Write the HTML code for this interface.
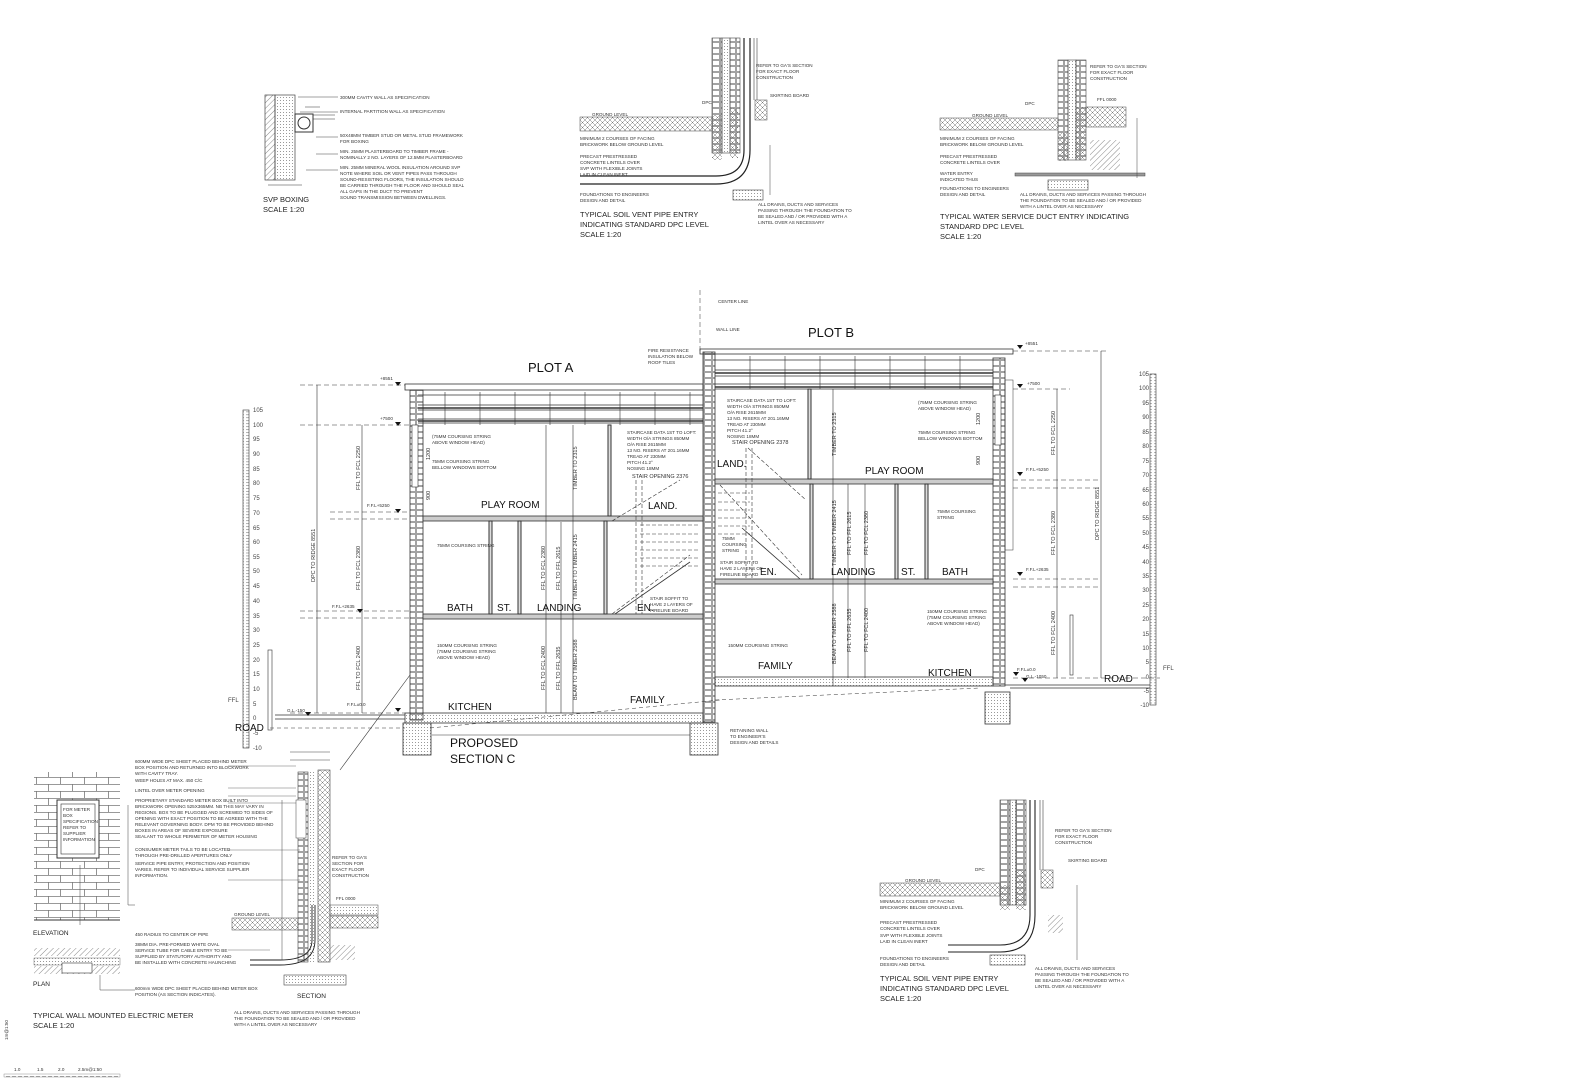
<!DOCTYPE html>
<html><head><meta charset="utf-8"><style>
html,body{margin:0;padding:0;background:#fff;}
svg{display:block;font-family:"Liberation Sans",sans-serif;}
.t{font-size:4.6px;fill:#333;}
.m{font-size:7.5px;fill:#222;}
.r{font-size:10px;fill:#111;}
.b{font-size:13px;fill:#111;}
.tk{font-size:6px;fill:#444;}
</style></head><body>
<svg width="1573" height="1080" viewBox="0 0 1573 1080" xmlns="http://www.w3.org/2000/svg">
<defs>
<pattern id="hat" width="4" height="4" patternUnits="userSpaceOnUse" patternTransform="rotate(45)"><line x1="0" y1="0" x2="0" y2="4" stroke="#555" stroke-width="0.7"/></pattern>
<pattern id="xh" width="5" height="5" patternUnits="userSpaceOnUse"><path d="M0 0L5 5M5 0L0 5" stroke="#777" stroke-width="0.5"/></pattern>
<pattern id="brk" width="8" height="6" patternUnits="userSpaceOnUse"><rect x="0.5" y="0.5" width="7" height="5" fill="none" stroke="#666" stroke-width="0.6"/></pattern>
<pattern id="wbrk" width="24" height="14" patternUnits="userSpaceOnUse"><path d="M0 0.5H24M0 7.5H24M0.5 0V7M12.5 7V14" stroke="#777" stroke-width="0.8" fill="none"/></pattern>
<pattern id="dot" width="3" height="3" patternUnits="userSpaceOnUse"><circle cx="1.5" cy="1.5" r="0.5" fill="#777"/></pattern>
<pattern id="rul" width="6" height="2.94" patternUnits="userSpaceOnUse"><line x1="0" y1="0.3" x2="4" y2="0.3" stroke="#666" stroke-width="0.5"/></pattern>
<pattern id="rul2" width="6" height="2.88" patternUnits="userSpaceOnUse"><line x1="2" y1="0.3" x2="6" y2="0.3" stroke="#666" stroke-width="0.5"/></pattern>
</defs>

<!-- ========== SVP BOXING ========== -->
<rect x="265" y="95" width="10" height="85" fill="url(#hat)" stroke="#444" stroke-width="0.7"/>
<rect x="275" y="95" width="20" height="85" fill="url(#dot)" stroke="#444" stroke-width="0.7"/>
<rect x="295" y="114" width="18" height="18" fill="none" stroke="#333"/>
<circle cx="304" cy="123" r="6" fill="none" stroke="#333"/>
<path d="M313 115H335M313 119H335M305 107H320" stroke="#333" stroke-width="0.6"/>
<path d="M268 185H302" stroke="#333" stroke-width="0.5"/>
<g stroke="#444" stroke-width="0.5"><path d="M298 97H338M300 112H338M316 137H338M316 154H338M306 170H338"/></g>
<text class="t" x="340" y="99">300MM CAVITY WALL AS SPECIFICATION</text>
<text class="t" x="340" y="113">INTERNAL PARTITION WALL AS SPECIFICATION</text>
<text class="t" x="340" y="137">50X48MM TIMBER STUD OR METAL STUD FRAMEWORK</text>
<text class="t" x="340" y="143">FOR BOXING</text>
<text class="t" x="340" y="153">MIN. 25MM PLASTERBOARD TO TIMBER FRAME -</text>
<text class="t" x="340" y="159">NOMINALLY 2 NO. LAYERS OF 12.5MM PLASTERBOARD</text>
<text class="t" x="340" y="169">MIN. 25MM MINERAL WOOL INSULATION AROUND SVP</text>
<text class="t" x="340" y="175">NOTE WHERE SOIL OR VENT PIPES PASS THROUGH</text>
<text class="t" x="340" y="181">SOUND-RESISTING FLOORS, THE INSULATION SHOULD</text>
<text class="t" x="340" y="187">BE CARRIED THROUGH THE FLOOR AND SHOULD SEAL</text>
<text class="t" x="340" y="193">ALL GAPS IN THE DUCT TO PREVENT</text>
<text class="t" x="340" y="199">SOUND TRANSMISSION BETWEEN DWELLINGS.</text>
<text class="m" x="263" y="202">SVP BOXING</text>
<text class="m" x="263" y="212">SCALE 1:20</text>

<!-- ========== SOIL VENT PIPE TOP ========== -->
<g>
<rect x="712" y="38" width="10" height="115" fill="url(#brk)" stroke="#444" stroke-width="0.6"/>
<rect x="722" y="38" width="8" height="115" fill="url(#dot)" stroke="#444" stroke-width="0.6"/>
<rect x="730" y="38" width="10" height="115" fill="url(#brk)" stroke="#444" stroke-width="0.6"/>
<rect x="712" y="115" width="10" height="45" fill="url(#xh)"/>
<rect x="730" y="108" width="8" height="50" fill="url(#xh)"/>
<rect x="580" y="117" width="132" height="14" fill="url(#xh)" stroke="#444" stroke-width="0.5"/>
<path d="M744 38V150Q744 176 716 176H580M750 38V150Q750 184 716 184H580" fill="none" stroke="#222" stroke-width="1.2"/>
<path d="M754 38V100M757 38V100" stroke="#444" stroke-width="0.6"/>
<rect x="755" y="100" width="12" height="20" fill="url(#xh)" stroke="#444" stroke-width="0.5"/>
<rect x="733" y="190" width="30" height="10" fill="url(#dot)" stroke="#444" stroke-width="0.6"/>
<path d="M758 118L760 120M770 145V195" stroke="#444" stroke-width="0.5"/>
<text class="t" x="756" y="67">REFER TO GA'S SECTION</text>
<text class="t" x="756" y="73">FOR EXACT FLOOR</text>
<text class="t" x="756" y="79">CONSTRUCTION</text>
<text class="t" x="770" y="97">SKIRTING BOARD</text>
<text class="t" x="702" y="104">DPC</text>
<text class="t" x="592" y="116">GROUND LEVEL</text>
<text class="t" x="580" y="140">MINIMUM 2 COURSES OF FACING</text>
<text class="t" x="580" y="146">BRICKWORK BELOW GROUND LEVEL</text>
<text class="t" x="580" y="158">PRECAST PRESTRESSED</text>
<text class="t" x="580" y="164">CONCRETE LINTELS OVER</text>
<text class="t" x="580" y="170">SVP WITH FLEXIBLE JOINTS</text>
<text class="t" x="580" y="176">LAID IN CLEAN INERT</text>
<text class="t" x="580" y="196">FOUNDATIONS TO ENGINEERS</text>
<text class="t" x="580" y="202">DESIGN AND DETAIL</text>
<text class="t" x="758" y="206">ALL DRAINS, DUCTS AND SERVICES</text>
<text class="t" x="758" y="212">PASSING THROUGH THE FOUNDATION TO</text>
<text class="t" x="758" y="218">BE SEALED AND / OR PROVIDED WITH A</text>
<text class="t" x="758" y="224">LINTEL OVER AS NECESSARY</text>
<text class="m" x="580" y="217">TYPICAL SOIL VENT PIPE ENTRY</text>
<text class="m" x="580" y="227">INDICATING STANDARD DPC LEVEL</text>
<text class="m" x="580" y="237">SCALE 1:20</text>
</g>

<!-- ========== WATER DUCT ========== -->
<g>
<rect x="1058" y="60" width="10" height="100" fill="url(#brk)" stroke="#444" stroke-width="0.6"/>
<rect x="1068" y="60" width="8" height="100" fill="url(#dot)" stroke="#444" stroke-width="0.6"/>
<rect x="1076" y="60" width="10" height="100" fill="url(#brk)" stroke="#444" stroke-width="0.6"/>
<rect x="1058" y="133" width="10" height="28" fill="url(#xh)"/>
<rect x="1076" y="107" width="10" height="53" fill="url(#xh)"/>
<rect x="940" y="118" width="118" height="12" fill="url(#xh)" stroke="#444" stroke-width="0.5"/>
<rect x="1086" y="107" width="40" height="20" fill="url(#xh)" stroke="#444" stroke-width="0.5"/>
<rect x="1090" y="140" width="30" height="30" fill="url(#hat)"/>
<rect x="1015" y="173" width="130" height="3" fill="#999" stroke="#444" stroke-width="0.5"/>
<rect x="1048" y="180" width="40" height="10" fill="url(#dot)" stroke="#444" stroke-width="0.6"/>
<path d="M1137 118V178" stroke="#444" stroke-width="0.5"/>
<text class="t" x="1090" y="68">REFER TO GA'S SECTION</text>
<text class="t" x="1090" y="74">FOR EXACT FLOOR</text>
<text class="t" x="1090" y="80">CONSTRUCTION</text>
<text class="t" x="1097" y="101">FFL 0000</text>
<text class="t" x="1025" y="105">DPC</text>
<text class="t" x="972" y="117">GROUND LEVEL</text>
<text class="t" x="940" y="140">MINIMUM 2 COURSES OF FACING</text>
<text class="t" x="940" y="146">BRICKWORK BELOW GROUND LEVEL</text>
<text class="t" x="940" y="158">PRECAST PRESTRESSED</text>
<text class="t" x="940" y="164">CONCRETE LINTELS OVER</text>
<text class="t" x="940" y="175">WATER ENTRY</text>
<text class="t" x="940" y="181">INDICATED THUS</text>
<text class="t" x="940" y="190">FOUNDATIONS TO ENGINEERS</text>
<text class="t" x="940" y="196">DESIGN AND DETAIL</text>
<text class="t" x="1020" y="196">ALL DRAINS, DUCTS AND SERVICES PASSING THROUGH</text>
<text class="t" x="1020" y="202">THE FOUNDATION TO BE SEALED AND / OR PROVIDED</text>
<text class="t" x="1020" y="208">WITH A LINTEL OVER AS NECESSARY</text>
<text class="m" x="940" y="219">TYPICAL WATER SERVICE DUCT ENTRY INDICATING</text>
<text class="m" x="940" y="229">STANDARD DPC LEVEL</text>
<text class="m" x="940" y="239">SCALE 1:20</text>
</g>

<!-- ========== MAIN SECTION ========== -->
<g stroke="#333" fill="none">
<!-- Plot A roof -->
<rect x="405" y="384" width="298" height="6" stroke-width="0.8"/>
<path d="M418 395H703M418 405H703M418 410H703M418 419H703M418 423H703" stroke-width="0.8"/>
<path d="M418 408H703M418 421H703" stroke-width="1.6"/>
<g stroke-width="0.6"><path d="M445 392V425M480 392V425M515 392V425M550 392V425M585 392V425M620 392V425M655 392V425M690 392V425"/></g>
<!-- Plot A walls -->
<rect x="410" y="390" width="13" height="330" fill="url(#brk)" stroke-width="0.8"/>
<rect x="703" y="352" width="12" height="370" fill="url(#brk)" stroke-width="0.8"/>
<rect x="412" y="425" width="6" height="62" fill="#fff" stroke-width="0.6"/>
<!-- floors A -->
<rect x="423" y="516" width="280" height="5" fill="#ccc" stroke-width="0.8"/>
<rect x="423" y="614" width="280" height="5" fill="#ccc" stroke-width="0.8"/>
<rect x="405" y="713" width="298" height="10" fill="url(#dot)" stroke-width="0.8"/>
<!-- partitions A -->
<rect x="489" y="521" width="3" height="93" fill="#ddd"/>
<rect x="518" y="521" width="3" height="93" fill="#ddd"/>
<rect x="608" y="425" width="3" height="91" fill="#ddd"/>
<rect x="604" y="521" width="3" height="93" fill="#ddd"/>
<!-- stair A -->
<g stroke-dasharray="4 2" stroke-width="0.6">
<path d="M612 521L680 480M612 614L690 555M636 480V614M642 480V614"/>
<path d="M640 525H700M640 534H700M640 542H700M640 550H700M640 558H700M640 566H700"/>
</g>
<path d="M615 614L690 562" stroke-width="0.8"/>
<!-- foundations A -->
<rect x="403" y="723" width="28" height="32" fill="url(#dot)" stroke-width="0.8"/>
<rect x="690" y="723" width="28" height="32" fill="url(#dot)" stroke-width="0.8"/>
<!-- ground A -->
<path d="M275 715H405M275 719H405" stroke-width="0.8"/>
<path d="M270 728H405" stroke-dasharray="4 3" stroke-width="0.5"/>
<path d="M430 728L720 700" stroke-dasharray="4 3" stroke-width="0.5"/>
<path d="M432 735H690" stroke-width="0.6"/>
<rect x="268" y="650" width="4" height="80" stroke-width="0.6"/>

<!-- Plot B roof -->
<rect x="700" y="349" width="313" height="5" stroke-width="0.8"/>
<path d="M715 360H993M715 370H993M715 376H993M715 384H993M715 389H993" stroke-width="0.8"/>
<path d="M715 373H993M715 387H993" stroke-width="1.6"/>
<g stroke-width="0.6"><path d="M750 356V389M785 356V389M820 356V389M855 356V389M890 356V389M925 356V389M960 356V389"/></g>
<rect x="993" y="358" width="12" height="328" fill="url(#brk)" stroke-width="0.8"/>
<rect x="995" y="395" width="6" height="50" fill="#fff" stroke-width="0.6"/>
<rect x="1005" y="380" width="8" height="170" stroke-width="0.5"/>
<rect x="715" y="479" width="278" height="5" fill="#ccc" stroke-width="0.8"/>
<rect x="715" y="579" width="278" height="5" fill="#ccc" stroke-width="0.8"/>
<rect x="715" y="677" width="278" height="9" fill="url(#dot)" stroke-width="0.8"/>
<rect x="808" y="389" width="3" height="90" fill="#ddd"/>
<rect x="810" y="484" width="3" height="95" fill="#ddd"/>
<rect x="895" y="484" width="3" height="95" fill="#ddd"/>
<rect x="925" y="484" width="3" height="95" fill="#ddd"/>
<g stroke-dasharray="4 2" stroke-width="0.6">
<path d="M748 448L806 500M720 485L802 575M746 448V579M752 448V579"/>
<path d="M718 493H750M718 502H750M718 510H750M718 518H750M718 526H750M718 534H750"/>
</g>
<path d="M742 528L800 579" stroke-width="0.8"/>
<rect x="985" y="692" width="25" height="32" fill="url(#dot)" stroke-width="0.8"/>
<path d="M1005 685H1150M1010 688H1150" stroke-width="0.8"/>
<path d="M715 700L980 688" stroke-dasharray="4 3" stroke-width="0.5"/>
<rect x="1070" y="615" width="3" height="60" stroke-width="0.6"/>

<!-- dimension lines -->
<g stroke-width="0.6">
<path d="M317 385V713M362 425V713M546 425V713M561 522V713M573 425V713"/>
<path d="M1101 351V678M1057 389V678M833 389V686M848 484V678M865 484V678"/>
</g>
<g stroke-width="0.5" stroke-dasharray="5 3">
<path d="M300 385H405M300 425H410M330 512H410M330 519H410M300 611H410M300 618H410M290 713H405"/>
<path d="M1013 351H1108M1013 389H1070M1013 480H1100M1013 488H1100M1013 579H1100M1013 587H1100M1013 678H1160"/>
<path d="M700 290V352"/>
</g>
<!-- leader -->
<path d="M340 770L410 675" stroke-width="0.6"/>
<!-- Rulers -->
<rect x="243" y="410" width="6" height="338" fill="url(#rul)" stroke-width="0.6"/>
<rect x="1150" y="374" width="6" height="331" fill="url(#rul2)" stroke-width="0.6"/>
</g>
<!-- level markers -->
<g fill="#111">
<path d="M395 382h6l-3 4z M395 422h6l-3 4z M395 509h6l-3 4z M357 609h6l-3 4z M395 708h6l-3 4z M305 712h6l-3 4z"/>
<path d="M1017 345h6l-3 4z M1017 384h6l-3 4z M1017 472h6l-3 4z M1017 572h6l-3 4z M1013 672h6l-3 4z M1022 678h6l-3 4z"/>
</g>
<g class="t">
<text x="380" y="380">+8551</text><text x="380" y="420">+7500</text>
<text x="367" y="507">F.F.L+5250</text><text x="332" y="608">F.F.L+2635</text>
<text x="347" y="706">F.F.L±0.0</text><text x="287" y="712">G.L.-150</text>
<text x="1025" y="345">+8551</text><text x="1027" y="385">+7500</text>
<text x="1026" y="471">F.F.L+5250</text><text x="1026" y="571">F.F.L+2635</text>
<text x="1017" y="671">F.F.L±0.0</text><text x="1026" y="678">G.L.-1050</text>
<text x="718" y="303">CENTER LINE</text><text x="716" y="331">WALL LINE</text>
<text x="648" y="352">FIRE RESISTANCE</text><text x="648" y="358">INSULATION BELOW</text><text x="648" y="364">ROOF TILES</text>
<text x="432" y="438">(75MM COURSING STRING</text><text x="432" y="444">ABOVE WINDOW HEAD)</text>
<text x="432" y="463">75MM COURSING STRING</text><text x="432" y="469">BELLOW WINDOWS BOTTOM</text>
<text x="437" y="547">75MM COURSING STRING</text>
<text x="437" y="647">150MM COURSING STRING</text><text x="437" y="653">(75MM COURSING STRING</text><text x="437" y="659">ABOVE WINDOW HEAD)</text>
<text x="627" y="434">STAIRCASE DATA 1ST TO LOFT:</text><text x="627" y="440">WIDTH O/A STRINGS 850MM</text><text x="627" y="446">O/A RISE 2615MM</text><text x="627" y="452">13 NO. RISERS AT 201.16MM</text><text x="627" y="458">TREAD AT 230MM</text><text x="627" y="464">PITCH 41.2°</text><text x="627" y="470">NOSING 18MM</text>
<text x="650" y="600">STAIR SOFFIT TO</text><text x="650" y="606">HAVE 2 LAYERS OF</text><text x="650" y="612">FIRELINE BOARD</text>
<text x="727" y="402">STAIRCASE DATA 1ST TO LOFT:</text><text x="727" y="408">WIDTH O/A STRINGS 850MM</text><text x="727" y="414">O/A RISE 2615MM</text><text x="727" y="420">13 NO. RISERS AT 201.16MM</text><text x="727" y="426">TREAD AT 230MM</text><text x="727" y="432">PITCH 41.2°</text><text x="727" y="438">NOSING 18MM</text>
<text x="722" y="540">75MM</text><text x="722" y="546">COURSING</text><text x="722" y="552">STRING</text>
<text x="720" y="564">STAIR SOFFIT TO</text><text x="720" y="570">HAVE 2 LAYERS OF</text><text x="720" y="576">FIRELINE BOARD</text>
<text x="918" y="404">(75MM COURSING STRING</text><text x="918" y="410">ABOVE WINDOW HEAD)</text>
<text x="918" y="434">75MM COURSING STRING</text><text x="918" y="440">BELLOW WINDOWS BOTTOM</text>
<text x="937" y="513">75MM COURSING</text><text x="937" y="519">STRING</text>
<text x="927" y="613">150MM COURSING STRING</text><text x="927" y="619">(75MM COURSING STRING</text><text x="927" y="625">ABOVE WINDOW HEAD)</text>
<text x="728" y="647">150MM COURSING STRING</text>
<text x="730" y="732">RETAINING WALL</text><text x="730" y="738">TO ENGINEER'S</text><text x="730" y="744">DESIGN AND DETAILS</text>
</g>
<g class="t" style="font-size:5.5px">
<text transform="translate(360,490) rotate(-90)">FFL TO FCL 2250</text>
<text transform="translate(360,590) rotate(-90)">FFL TO FCL 2380</text>
<text transform="translate(360,690) rotate(-90)">FFL TO FCL 2400</text>
<text transform="translate(315,582) rotate(-90)">DPC TO RIDGE 8551</text>
<text transform="translate(577,490) rotate(-90)">TIMBER TO 2315</text>
<text transform="translate(545,590) rotate(-90)">FFL TO FCL 2380</text>
<text transform="translate(560,590) rotate(-90)">FFL TO FFL 2615</text>
<text transform="translate(577,600) rotate(-90)">TIMBER TO TIMBER 2415</text>
<text transform="translate(545,690) rotate(-90)">FFL TO FCL 2400</text>
<text transform="translate(560,690) rotate(-90)">FFL TO FFL 2635</text>
<text transform="translate(577,700) rotate(-90)">BEAM TO TIMBER 2588</text>
<text transform="translate(836,456) rotate(-90)">TIMBER TO 2315</text>
<text transform="translate(836,566) rotate(-90)">TIMBER TO TIMBER 2415</text>
<text transform="translate(851,555) rotate(-90)">FFL TO FFL 2615</text>
<text transform="translate(868,555) rotate(-90)">FFL TO FCL 2380</text>
<text transform="translate(836,664) rotate(-90)">BEAM TO TIMBER 2588</text>
<text transform="translate(851,652) rotate(-90)">FFL TO FFL 2635</text>
<text transform="translate(868,652) rotate(-90)">FFL TO FCL 2400</text>
<text transform="translate(1055,455) rotate(-90)">FFL TO FCL 2250</text>
<text transform="translate(1055,555) rotate(-90)">FFL TO FCL 2380</text>
<text transform="translate(1055,655) rotate(-90)">FFL TO FCL 2400</text>
<text transform="translate(1099,540) rotate(-90)">DPC TO RIDGE 8551</text>
<text transform="translate(430,460) rotate(-90)">1200</text>
<text transform="translate(430,500) rotate(-90)">900</text>
<text transform="translate(980,425) rotate(-90)">1200</text>
<text transform="translate(980,465) rotate(-90)">900</text>
<text x="632" y="478">STAIR OPENING 2376</text>
<text x="732" y="444">STAIR OPENING 2378</text>
</g>
<g class="r">
<text x="481" y="508">PLAY ROOM</text><text x="447" y="611">BATH</text><text x="497" y="611">ST.</text>
<text x="537" y="611">LANDING</text><text x="648" y="509">LAND.</text><text x="637" y="611">EN.</text>
<text x="448" y="710">KITCHEN</text><text x="630" y="703">FAMILY</text>
<text x="717" y="467">LAND.</text><text x="865" y="474">PLAY ROOM</text><text x="760" y="575">EN.</text>
<text x="831" y="575">LANDING</text><text x="901" y="575">ST.</text><text x="942" y="575">BATH</text>
<text x="758" y="669">FAMILY</text><text x="928" y="676">KITCHEN</text>
<text x="235" y="731">ROAD</text><text x="1104" y="682">ROAD</text>
</g>
<g class="b">
<text x="528" y="372">PLOT A</text><text x="808" y="337">PLOT B</text>
<text x="450" y="747" style="font-size:12px">PROPOSED</text>
<text x="450" y="763" style="font-size:12px">SECTION C</text>
</g>
<g class="tk">
<text x="253" y="412">105</text><text x="253" y="427">100</text><text x="253" y="441">95</text><text x="253" y="456">90</text><text x="253" y="471">85</text><text x="253" y="485">80</text><text x="253" y="500">75</text><text x="253" y="515">70</text><text x="253" y="530">65</text><text x="253" y="544">60</text><text x="253" y="559">55</text><text x="253" y="573">50</text><text x="253" y="588">45</text><text x="253" y="603">40</text><text x="253" y="618">35</text><text x="253" y="632">30</text><text x="253" y="647">25</text><text x="253" y="662">20</text><text x="253" y="676">15</text><text x="253" y="691">10</text><text x="253" y="706">5</text><text x="253" y="720">0</text><text x="253" y="735">-5</text><text x="253" y="750">-10</text>
</g>
<g class="tk" text-anchor="end">
<text x="1149" y="376">105</text><text x="1149" y="390">100</text><text x="1149" y="405">95</text><text x="1149" y="419">90</text><text x="1149" y="434">85</text><text x="1149" y="448">80</text><text x="1149" y="463">75</text><text x="1149" y="477">70</text><text x="1149" y="492">65</text><text x="1149" y="506">60</text><text x="1149" y="520">55</text><text x="1149" y="535">50</text><text x="1149" y="549">45</text><text x="1149" y="564">40</text><text x="1149" y="578">35</text><text x="1149" y="592">30</text><text x="1149" y="607">25</text><text x="1149" y="621">20</text><text x="1149" y="636">15</text><text x="1149" y="650">10</text><text x="1149" y="664">5</text><text x="1149" y="679">0</text><text x="1149" y="693">-5</text><text x="1149" y="707">-10</text>
</g>
<text class="tk" x="228" y="702">FFL</text><text class="tk" x="1163" y="670">FFL</text>

<!-- ========== ELECTRIC METER ========== -->
<g>
<rect x="34" y="772" width="86" height="148" fill="url(#wbrk)"/>
<path d="M34 920H120" stroke="#333"/>
<rect x="57" y="800" width="42" height="58" fill="#fff" stroke="#333" stroke-width="1"/>
<rect x="61" y="804" width="34" height="50" fill="none" stroke="#333" stroke-width="0.6"/>
<text class="t" x="63" y="811">FOR METER</text><text class="t" x="63" y="817">BOX</text><text class="t" x="63" y="823">SPECIFICATION</text><text class="t" x="63" y="829">REFER TO</text><text class="t" x="63" y="835">SUPPLIER</text><text class="t" x="63" y="841">INFORMATION</text>
<path d="M128 805V905M128 905H135M80 865V925" stroke="#444" stroke-width="0.5" fill="none"/>
<rect x="34" y="948" width="86" height="8" fill="url(#hat)"/>
<rect x="34" y="958" width="86" height="7" fill="url(#dot)" stroke="#555" stroke-width="0.4"/>
<rect x="34" y="966" width="86" height="8" fill="url(#hat)"/>
<rect x="62" y="963" width="30" height="10" fill="#fff" stroke="#333" stroke-width="0.6"/>
<path d="M100 975V990H135" stroke="#444" stroke-width="0.5" fill="none"/>
<!-- section -->
<rect x="298" y="772" width="10" height="190" fill="url(#brk)" stroke="#444" stroke-width="0.6"/>
<rect x="308" y="772" width="6" height="190" fill="url(#dot)"/>
<rect x="318" y="770" width="12" height="192" fill="url(#xh)" stroke="#444" stroke-width="0.6"/>
<rect x="296" y="800" width="10" height="38" fill="#fff" stroke="#444" stroke-width="0.5"/>
<rect x="232" y="918" width="66" height="12" fill="url(#xh)" stroke="#444" stroke-width="0.5"/>
<rect x="330" y="905" width="48" height="10" fill="url(#dot)" stroke="#444" stroke-width="0.5"/>
<rect x="330" y="916" width="48" height="12" fill="url(#xh)" stroke="#444" stroke-width="0.5"/>
<rect x="330" y="945" width="25" height="15" fill="url(#hat)"/>
<rect x="284" y="975" width="62" height="10" fill="url(#dot)" stroke="#444" stroke-width="0.6"/>
<path d="M315 905V940Q315 965 280 965H250M312 905V940Q312 960 280 960H250" fill="none" stroke="#222" stroke-width="0.9"/>
<path d="M290 752H330M290 760H330M282 800V960" stroke="#444" stroke-width="0.5"/>
<g stroke="#444" stroke-width="0.4"><path d="M228 766H296M228 788H296M228 796H296M228 803H296M228 850H300M228 880H300M228 950H270"/></g>
<text class="t" x="135" y="763">600MM WIDE DPC SHEET PLACED BEHIND METER</text>
<text class="t" x="135" y="769">BOX POSITION AND RETURNED INTO BLOCKWORK</text>
<text class="t" x="135" y="775">WITH CAVITY TRAY.</text>
<text class="t" x="135" y="782">WEEP HOLES AT MAX. 450 C/C</text>
<text class="t" x="135" y="792">LINTEL OVER METER OPENING</text>
<text class="t" x="135" y="802">PROPRIETARY STANDARD METER BOX BUILT INTO</text>
<text class="t" x="135" y="808">BRICKWORK OPENING 525X365MM. NB THIS MAY VARY IN</text>
<text class="t" x="135" y="814">REGIONS. BOX TO BE PLUGGED AND SCREWED TO SIDES OF</text>
<text class="t" x="135" y="820">OPENING WITH EXACT POSITION TO BE AGREED WITH THE</text>
<text class="t" x="135" y="826">RELEVANT GOVERNING BODY. DPM TO BE PROVIDED BEHIND</text>
<text class="t" x="135" y="832">BOXES IN AREAS OF SEVERE EXPOSURE</text>
<text class="t" x="135" y="838">SEALANT TO WHOLE PERIMETER OF METER HOUSING</text>
<text class="t" x="135" y="851">CONSUMER METER TAILS TO BE LOCATED</text>
<text class="t" x="135" y="857">THROUGH PRE-DRILLED APERTURES ONLY</text>
<text class="t" x="135" y="865">SERVICE PIPE ENTRY, PROTECTION AND POSITION</text>
<text class="t" x="135" y="871">VARIES. REFER TO INDIVIDUAL SERVICE SUPPLIER</text>
<text class="t" x="135" y="877">INFORMATION.</text>
<text class="t" x="135" y="936">450 RADIUS TO CENTER OF PIPE</text>
<text class="t" x="135" y="946">38MM DIA. PRE-FORMED WHITE OVAL</text>
<text class="t" x="135" y="952">SERVICE TUBE FOR CABLE ENTRY TO BE</text>
<text class="t" x="135" y="958">SUPPLIED BY STATUTORY AUTHORITY AND</text>
<text class="t" x="135" y="964">BE INSTALLED WITH CONCRETE HAUNCHING</text>
<text class="t" x="135" y="990">600mm WIDE DPC SHEET PLACED BEHIND METER BOX</text>
<text class="t" x="135" y="996">POSITION (AS SECTION INDICATES).</text>
<text class="t" x="332" y="859">REFER TO GA'S</text><text class="t" x="332" y="865">SECTION FOR</text><text class="t" x="332" y="871">EXACT FLOOR</text><text class="t" x="332" y="877">CONSTRUCTION</text>
<text class="t" x="336" y="900">FFL 0000</text>
<text class="t" x="234" y="916">GROUND LEVEL</text>
<text class="t" x="234" y="1014">ALL DRAINS, DUCTS AND SERVICES PASSING THROUGH</text>
<text class="t" x="234" y="1020">THE FOUNDATION TO BE SEALED AND / OR PROVIDED</text>
<text class="t" x="234" y="1026">WITH A LINTEL OVER AS NECESSARY</text>
<text class="m" x="33" y="935" style="font-size:6.5px">ELEVATION</text>
<text class="m" x="33" y="986" style="font-size:6.5px">PLAN</text>
<text class="m" x="297" y="998" style="font-size:6.5px">SECTION</text>
<text class="m" x="33" y="1018">TYPICAL WALL MOUNTED ELECTRIC METER</text>
<text class="m" x="33" y="1028">SCALE 1:20</text>
</g>
<!-- scale bar -->
<rect x="4" y="1074" width="116" height="3" fill="url(#rul)" stroke="#777" stroke-width="0.4"/>
<g class="t"><text x="14" y="1071">1.0</text><text x="37" y="1071">1.5</text><text x="58" y="1071">2.0</text><text x="78" y="1071">2.5m@1:50</text>
<text transform="translate(8,1040) rotate(-90)">1m@1:50</text></g>

<!-- ========== SOIL VENT PIPE BOTTOM ========== -->
<g>
<rect x="1000" y="800" width="10" height="105" fill="url(#brk)" stroke="#444" stroke-width="0.6"/>
<rect x="1010" y="800" width="6" height="105" fill="url(#dot)" stroke="#444" stroke-width="0.6"/>
<rect x="1016" y="800" width="10" height="105" fill="url(#brk)" stroke="#444" stroke-width="0.6"/>
<rect x="1000" y="885" width="10" height="25" fill="url(#xh)"/>
<rect x="1016" y="870" width="10" height="40" fill="url(#xh)"/>
<rect x="880" y="883" width="120" height="13" fill="url(#xh)" stroke="#444" stroke-width="0.5"/>
<path d="M1030 800V915Q1030 945 1000 945H948M1035 800V915Q1035 952 1000 952H948" fill="none" stroke="#222" stroke-width="1.1"/>
<path d="M1040 800V870M1043 800V870" stroke="#444" stroke-width="0.6"/>
<rect x="1041" y="870" width="12" height="18" fill="url(#xh)" stroke="#444" stroke-width="0.5"/>
<rect x="1048" y="915" width="15" height="18" fill="url(#hat)"/>
<rect x="990" y="955" width="35" height="10" fill="url(#dot)" stroke="#444" stroke-width="0.6"/>
<path d="M1077 885V960" stroke="#444" stroke-width="0.5"/>
<text class="t" x="1055" y="832">REFER TO GA'S SECTION</text>
<text class="t" x="1055" y="838">FOR EXACT FLOOR</text>
<text class="t" x="1055" y="844">CONSTRUCTION</text>
<text class="t" x="1068" y="862">SKIRTING BOARD</text>
<text class="t" x="975" y="871">DPC</text>
<text class="t" x="905" y="882">GROUND LEVEL</text>
<text class="t" x="880" y="903">MINIMUM 2 COURSES OF FACING</text>
<text class="t" x="880" y="909">BRICKWORK BELOW GROUND LEVEL</text>
<text class="t" x="880" y="924">PRECAST PRESTRESSED</text>
<text class="t" x="880" y="930">CONCRETE LINTELS OVER</text>
<text class="t" x="880" y="937">SVP WITH FLEXIBLE JOINTS</text>
<text class="t" x="880" y="943">LAID IN CLEAN INERT</text>
<text class="t" x="880" y="960">FOUNDATIONS TO ENGINEERS</text>
<text class="t" x="880" y="966">DESIGN AND DETAIL</text>
<text class="t" x="1035" y="970">ALL DRAINS, DUCTS AND SERVICES</text>
<text class="t" x="1035" y="976">PASSING THROUGH THE FOUNDATION TO</text>
<text class="t" x="1035" y="982">BE SEALED AND / OR PROVIDED WITH A</text>
<text class="t" x="1035" y="988">LINTEL OVER AS NECESSARY</text>
<text class="m" x="880" y="981">TYPICAL SOIL VENT PIPE ENTRY</text>
<text class="m" x="880" y="991">INDICATING STANDARD DPC LEVEL</text>
<text class="m" x="880" y="1001">SCALE 1:20</text>
</g>
</svg>
</body></html>
